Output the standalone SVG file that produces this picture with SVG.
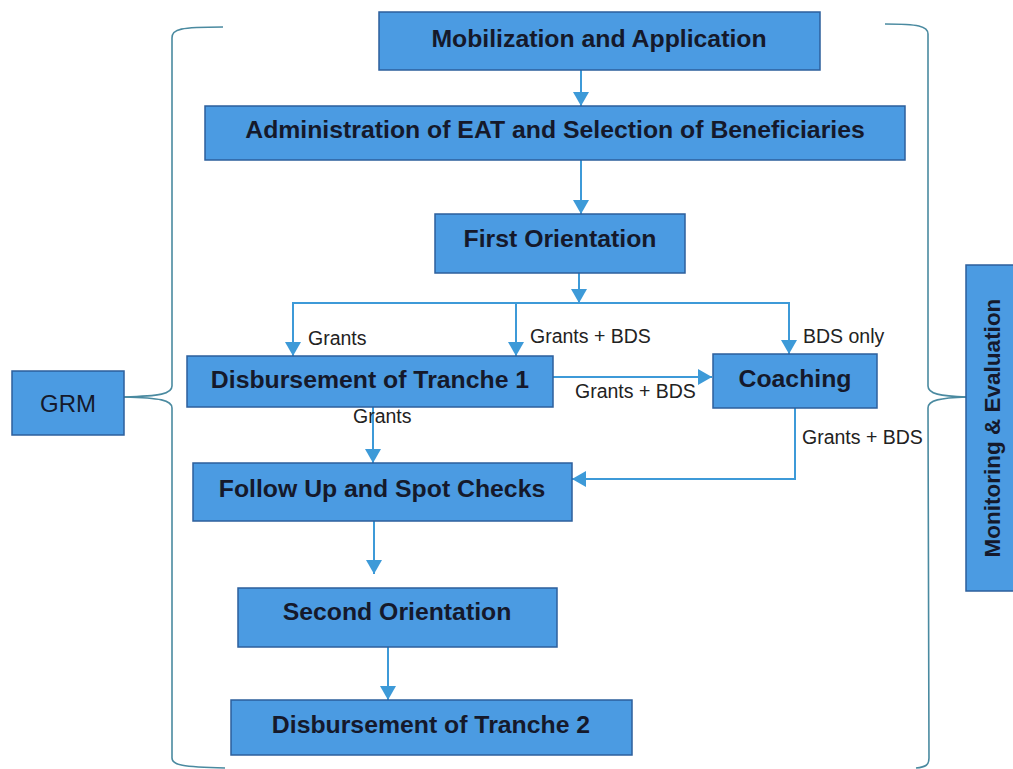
<svg xmlns="http://www.w3.org/2000/svg" width="1013" height="769" viewBox="0 0 1013 769">
<defs>
<style>
.box{fill:#4b9be2;stroke:#2d5f9c;stroke-width:1.5}
.t{font-family:"Liberation Sans",Arial,sans-serif;font-weight:bold;font-size:24.8px;fill:#15192b;text-anchor:middle}
.grm{font-family:"Liberation Sans",Arial,sans-serif;font-size:24px;fill:#15192b;text-anchor:middle}
.lbl{font-family:"Liberation Sans",Arial,sans-serif;font-size:19.5px;fill:#222}
.c{fill:none;stroke:#3d9ad8;stroke-width:2}
.br{fill:none;stroke:#4a8aa0;stroke-width:1.6}
</style>
<marker id="ah" markerUnits="userSpaceOnUse" markerWidth="16" markerHeight="16" refX="14" refY="8" orient="auto">
<path d="M0,0 L14,8 L0,16 Z" fill="#3d9ad8"/>
</marker>
</defs>
<rect width="1013" height="769" fill="#ffffff"/>
<g id="braces">
<path class="br" d="M223,27 C180,27 172,29 172,38 L172,386 C172,394 160,396 124,397"/>
<path class="br" d="M124,397 C160,398 172,400 172,408 L172,758 C172,765 182,767 225,768"/>
<path class="br" d="M885,24 C918,24 928,26 928,34 L928,386 C928,394 940,396 967,397"/>
<path class="br" d="M967,397 C940,398 928,400 928,408 L929,758 C929,765 926,767 916,768"/>
</g>
<g id="connectors">
<line class="c" x1="581" y1="70" x2="581" y2="106" marker-end="url(#ah)"/>
<line class="c" x1="581" y1="160" x2="581" y2="214" marker-end="url(#ah)"/>
<line class="c" x1="579" y1="273" x2="579" y2="303" marker-end="url(#ah)"/>
<polyline class="c" points="293,355 293,303 789,303 789,354" marker-end="url(#ah)"/>
<line class="c" x1="516" y1="303" x2="516" y2="356" marker-end="url(#ah)"/>
<line class="c" x1="293" y1="303" x2="293" y2="356" marker-end="url(#ah)"/>
<line class="c" x1="553" y1="377" x2="712" y2="377" marker-end="url(#ah)"/>
<polyline class="c" points="795,408 795,479 572,479" marker-end="url(#ah)"/>
<line class="c" x1="373" y1="407" x2="373" y2="463" marker-end="url(#ah)"/>
<line class="c" x1="374" y1="521" x2="374" y2="574" marker-end="url(#ah)"/>
<line class="c" x1="388" y1="647" x2="388" y2="700" marker-end="url(#ah)"/>
<text class="lbl" x="308" y="345">Grants</text>
<text class="lbl" x="530" y="343">Grants + BDS</text>
<text class="lbl" x="803" y="343">BDS only</text>
<text class="lbl" x="575" y="398">Grants + BDS</text>
<text class="lbl" x="353" y="423">Grants</text>
<text class="lbl" x="802" y="444">Grants + BDS</text>
</g>
<g id="n1"><rect class="box" x="379" y="12" width="441" height="58"/><text class="t" x="599" y="47">Mobilization and Application</text></g>
<g id="n2"><rect class="box" x="205" y="106" width="700" height="54"/><text class="t" x="555" y="138">Administration of EAT and Selection of Beneficiaries</text></g>
<g id="n3"><rect class="box" x="435" y="214" width="250" height="59"/><text class="t" x="560" y="247">First Orientation</text></g>
<g id="n4"><rect class="box" x="187" y="356" width="366" height="51"/><text class="t" x="370" y="388">Disbursement of Tranche 1</text></g>
<g id="n5"><rect class="box" x="713" y="354" width="164" height="54"/><text class="t" x="795" y="387">Coaching</text></g>
<g id="n6"><rect class="box" x="193" y="463" width="379" height="58"/><text class="t" x="382" y="497">Follow Up and Spot Checks</text></g>
<g id="n7"><rect class="box" x="238" y="588" width="319" height="59"/><text class="t" x="397" y="620">Second Orientation</text></g>
<g id="n8"><rect class="box" x="231" y="700" width="401" height="55"/><text class="t" x="431" y="733">Disbursement of Tranche 2</text></g>
<g id="grm"><rect class="box" x="12" y="371" width="112" height="64"/><text class="grm" x="68" y="412">GRM</text></g>
<g id="me"><rect class="box" x="966" y="265" width="50" height="326"/><text class="t" style="font-size:22.5px" transform="translate(1000,428) rotate(-90)" x="0" y="0">Monitoring &amp; Evaluation</text></g>
</svg>
